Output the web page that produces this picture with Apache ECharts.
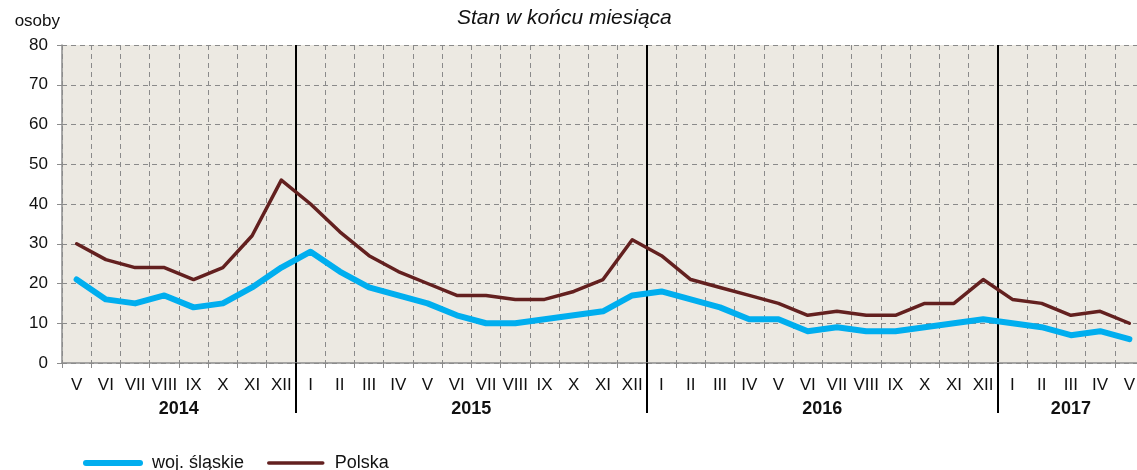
<!DOCTYPE html>
<html>
<head>
<meta charset="utf-8">
<script src="https://cdn.jsdelivr.net/npm/echarts@6/dist/echarts.min.js"></script>
<style>
  html, body { margin: 0; padding: 0; background: #fff; overflow: hidden; }
  /* wykres szerszy niz okno: prawa krawedz obszaru jest przycieta jak w oryginale */
  #chart { width: 1150px; height: 470px; }
</style>
</head>
<body>
<div id="chart"></div>
<script>
// miesiace V 2014 - V 2017
const months = ['V','VI','VII','VIII','IX','X','XI','XII',
  'I','II','III','IV','V','VI','VII','VIII','IX','X','XI','XII',
  'I','II','III','IV','V','VI','VII','VIII','IX','X','XI','XII',
  'I','II','III','IV','V'];
const years = ['2014', '2015', '2016', '2017'];
const yearStart = [0, 8, 20, 32];   // indeks pierwszego miesiaca roku

const slaskie = [21,16,15,17,14,15,19,24,
  28,23,19,17,15,12,10,10,11,12,13,17,
  18,16,14,11,11,8,9,8,8,9,10,11,
  10,9,7,8,6];
const polska = [30,26,24,24,21,24,32,46,
  40,33,27,23,20,17,17,16,16,18,21,31,
  27,21,19,17,15,12,13,12,12,15,15,21,
  16,15,12,13,10];

const fontMain = '"Liberation Sans", Arial, sans-serif';

// srodek kazdego roku w indeksach kategorii
var yearLabelAt = {};
for (let i = 0; i < years.length; i++) {
  let s = yearStart[i];
  let e = i + 1 < yearStart.length ? yearStart[i + 1] : months.length;
  let mid = (s + e) / 2 - 0.5;
  let idx = Math.floor(mid);
  yearLabelAt[idx] = { text: years[i], shifted: mid !== idx };
}

function isYearBoundary(index) {
  return yearStart.indexOf(index) > 0;
}

var chart = echarts.init(document.getElementById('chart'), null, { renderer: 'canvas' });

var option = {
  animation: false,
  title: {
    text: 'Stan w końcu miesiąca',
    left: 452,
    top: 3,
    textStyle: {
      fontFamily: fontMain,
      fontStyle: 'italic',
      fontWeight: 'normal',
      fontSize: 21,
      color: '#111'
    }
  },
  legend: {
    left: 78,
    top: 449,
    itemWidth: 54,
    itemHeight: 14,
    itemGap: 23,
    lineStyle: { width: 'inherit' },
    itemStyle: { opacity: 0, borderWidth: 0 },
    textStyle: { fontFamily: fontMain, fontSize: 18, color: '#111', padding: [0, 0, 0, 7] },
    data: ['woj. śląskie', 'Polska']
  },
  grid: {
    left: 62,
    top: 45,
    width: 1082,
    height: 318,
    show: true,
    backgroundColor: '#ECE9E2',
    borderWidth: 0
  },
  xAxis: [{
    type: 'category',
    data: months,
    boundaryGap: true,
    axisLine: { lineStyle: { color: '#8c8c8c', width: 1.5 } },
    axisTick: { show: true, length: 5, lineStyle: { color: '#8c8c8c' } },
    axisLabel: {
      interval: 0,
      margin: 14,
      fontFamily: fontMain,
      fontSize: 17,
      color: '#111'
    },
    splitLine: {
      show: true,
      interval: 0,
      lineStyle: { color: '#8a8a8a', type: [5, 4], width: 1 }
    }
  }, {
    // os lat: separatory i etykiety
    type: 'category',
    data: months,
    position: 'bottom',
    offset: 0,
    boundaryGap: true,
    axisLine: { show: false },
    axisTick: {
      show: true,
      length: 50,
      interval: isYearBoundary,
      lineStyle: { color: '#000', width: 2 }
    },
    splitLine: {
      show: true,
      interval: isYearBoundary,
      lineStyle: { color: '#000', width: 2 }
    },
    axisLabel: {
      interval: 0,
      margin: 37,
      formatter: function (value, index) {
        let y = yearLabelAt[index];
        if (!y) return '';
        return y.shifted ? '{s|' + y.text + '}' : '{c|' + y.text + '}';
      },
      rich: {
        s: { fontFamily: fontMain, fontWeight: 'bold', fontSize: 18, color: '#111', padding: [0, 0, 0, 29] },
        c: { fontFamily: fontMain, fontWeight: 'bold', fontSize: 18, color: '#111' }
      }
    }
  }],
  yAxis: {
    type: 'value',
    min: 0,
    max: 80,
    interval: 10,
    name: 'osoby',
    nameLocation: 'end',
    nameGap: 15,
    nameTextStyle: {
      fontFamily: fontMain,
      fontSize: 17,
      color: '#111',
      align: 'right',
      padding: [0, 2, 0, 0]
    },
    axisLine: { show: true, lineStyle: { color: '#8c8c8c', width: 1.5 } },
    axisTick: { show: true, length: 5, lineStyle: { color: '#8c8c8c' } },
    axisLabel: {
      margin: 14,
      fontFamily: fontMain,
      fontSize: 17,
      color: '#111'
    },
    splitLine: {
      show: true,
      lineStyle: { color: '#8a8a8a', type: [5, 4], width: 1 }
    }
  },
  series: [{
    name: 'woj. śląskie',
    type: 'line',
    data: slaskie,
    symbol: 'none',
    z: 3,
    itemStyle: { color: '#00AEEF' },
    lineStyle: { color: '#00AEEF', width: 6, cap: 'round', join: 'round' }
  }, {
    name: 'Polska',
    type: 'line',
    data: polska,
    symbol: 'none',
    z: 4,
    itemStyle: { color: '#63201F' },
    lineStyle: { color: '#63201F', width: 3.5, cap: 'round', join: 'round' }
  }]
};

chart.setOption(option);
</script>
</body>
</html>
